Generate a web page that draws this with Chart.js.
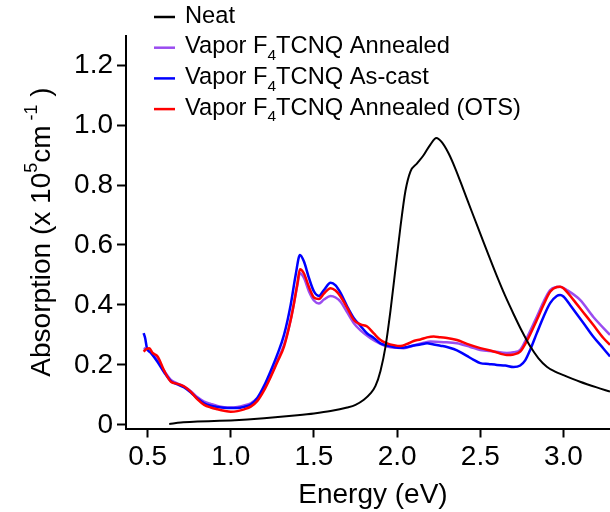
<!DOCTYPE html>
<html>
<head>
<meta charset="utf-8">
<script src="https://cdn.jsdelivr.net/npm/chart.js@4.4.1/dist/chart.umd.min.js"></script>
<style>
  html, body { margin: 0; padding: 0; background: #fff; }
  #wrap { width: 610px; height: 512px; }
</style>
</head>
<body>
<div id="wrap"><canvas id="chart" width="610" height="512"></canvas></div>
<script>
// Tick positions
const xTicks = [0.5, 1.0, 1.5, 2.0, 2.5, 3.0];
const yTicks = [0, 0.2, 0.4, 0.6, 0.8, 1.0, 1.2];

// Neat film
const neatE = [0.63, 0.7, 0.8, 0.9, 1.0, 1.1, 1.2, 1.3, 1.4, 1.5, 1.6, 1.7, 1.75, 1.8, 1.84, 1.87, 1.9, 1.93, 1.96, 1.99,
  2.02, 2.05, 2.08, 2.12, 2.16, 2.2, 2.236, 2.27, 2.31, 2.35, 2.4, 2.45, 2.5, 2.55, 2.6, 2.65, 2.7, 2.75, 2.8, 2.85,
  2.9, 2.95, 3.0, 3.1, 3.2, 3.28];
const neatA = [0.003, 0.008, 0.011, 0.013, 0.015, 0.018, 0.022, 0.027, 0.032, 0.038, 0.046, 0.058, 0.067, 0.084, 0.105, 0.13, 0.18, 0.26, 0.38, 0.52,
  0.66, 0.78, 0.845, 0.872, 0.9, 0.935, 0.957, 0.942, 0.905, 0.855, 0.783, 0.71, 0.638, 0.566, 0.496, 0.43, 0.37, 0.313, 0.262, 0.222,
  0.194, 0.178, 0.166, 0.144, 0.125, 0.111];

// Vapor F4TCNQ Annealed
const annE = [0.476, 0.5, 0.53, 0.56, 0.6, 0.64, 0.68, 0.72, 0.76, 0.8, 0.84, 0.88, 0.92, 0.96, 1.0, 1.04, 1.08, 1.12, 1.16, 1.2,
  1.24, 1.28, 1.32, 1.36, 1.38, 1.4, 1.416, 1.44, 1.47, 1.5, 1.53, 1.56, 1.6, 1.63, 1.66, 1.7, 1.74, 1.78, 1.84, 1.9,
  1.94, 2.0, 2.04, 2.1, 2.16, 2.2, 2.28, 2.36, 2.44, 2.5, 2.58, 2.66, 2.7, 2.74, 2.78, 2.84, 2.88, 2.92, 2.96, 2.98,
  3.02, 3.1, 3.18, 3.28];
const annA = [0.256, 0.25, 0.235, 0.215, 0.18, 0.15, 0.138, 0.128, 0.112, 0.092, 0.078, 0.07, 0.063, 0.059, 0.058, 0.06, 0.065, 0.072, 0.09, 0.12,
  0.165, 0.215, 0.267, 0.35, 0.406, 0.465, 0.506, 0.49, 0.445, 0.415, 0.405, 0.418, 0.43, 0.425, 0.411, 0.375, 0.339, 0.315, 0.289, 0.27,
  0.261, 0.257, 0.256, 0.265, 0.274, 0.278, 0.276, 0.272, 0.26, 0.25, 0.245, 0.24, 0.242, 0.25, 0.29, 0.361, 0.41, 0.45, 0.46, 0.461,
  0.45, 0.417, 0.36, 0.3];

// Vapor F4TCNQ As-cast
const castE = [0.476, 0.485, 0.496, 0.52, 0.56, 0.6, 0.64, 0.68, 0.72, 0.76, 0.8, 0.84, 0.88, 0.92, 0.96, 1.0, 1.04, 1.08, 1.12, 1.16,
  1.2, 1.24, 1.28, 1.32, 1.36, 1.39, 1.416, 1.44, 1.47, 1.5, 1.53, 1.56, 1.6, 1.63, 1.66, 1.7, 1.74, 1.78, 1.82, 1.86,
  1.9, 1.94, 1.98, 2.02, 2.06, 2.1, 2.14, 2.18, 2.22, 2.26, 2.3, 2.34, 2.38, 2.42, 2.46, 2.5, 2.55, 2.6, 2.65, 2.7,
  2.74, 2.77, 2.8, 2.84, 2.88, 2.92, 2.96, 2.98, 3.0, 3.04, 3.08, 3.12, 3.18, 3.24, 3.28];
const castA = [0.306, 0.29, 0.256, 0.24, 0.21, 0.175, 0.146, 0.135, 0.125, 0.108, 0.088, 0.072, 0.064, 0.06, 0.057, 0.056, 0.056, 0.06, 0.068, 0.09,
  0.13, 0.18, 0.235, 0.3, 0.4, 0.5, 0.567, 0.545, 0.49, 0.445, 0.43, 0.45, 0.474, 0.465, 0.44, 0.395, 0.356, 0.33, 0.305, 0.29,
  0.272, 0.265, 0.26, 0.257, 0.26, 0.265, 0.268, 0.272, 0.268, 0.264, 0.26, 0.253, 0.243, 0.23, 0.217, 0.206, 0.203, 0.2, 0.198, 0.193,
  0.198, 0.215, 0.25, 0.306, 0.36, 0.406, 0.43, 0.433, 0.428, 0.4, 0.37, 0.34, 0.294, 0.255, 0.228];

// Vapor F4TCNQ Annealed (OTS)
const otsE = [0.476, 0.49, 0.51, 0.53, 0.56, 0.6, 0.64, 0.68, 0.72, 0.76, 0.8, 0.84, 0.88, 0.92, 0.96, 1.0, 1.04, 1.08, 1.12, 1.16,
  1.2, 1.24, 1.28, 1.32, 1.36, 1.38, 1.4, 1.416, 1.44, 1.47, 1.5, 1.53, 1.56, 1.6, 1.63, 1.66, 1.7, 1.74, 1.78, 1.82,
  1.86, 1.9, 1.94, 1.98, 2.02, 2.06, 2.1, 2.14, 2.18, 2.22, 2.26, 2.3, 2.36, 2.42, 2.5, 2.58, 2.66, 2.7, 2.74, 2.78,
  2.84, 2.88, 2.92, 2.96, 2.98, 3.0, 3.06, 3.12, 3.18, 3.24, 3.28];
const otsA = [0.244, 0.252, 0.256, 0.24, 0.228, 0.18, 0.144, 0.137, 0.128, 0.11, 0.085, 0.067, 0.058, 0.052, 0.047, 0.044, 0.046, 0.052, 0.061, 0.08,
  0.115, 0.16, 0.21, 0.261, 0.35, 0.406, 0.47, 0.519, 0.505, 0.46, 0.425, 0.42, 0.438, 0.456, 0.448, 0.428, 0.39, 0.35, 0.335, 0.328,
  0.305, 0.283, 0.272, 0.266, 0.263, 0.27, 0.28, 0.285, 0.292, 0.295, 0.292, 0.29, 0.283, 0.27, 0.256, 0.245, 0.233, 0.235, 0.244, 0.28,
  0.35, 0.4, 0.444, 0.46, 0.461, 0.456, 0.417, 0.375, 0.333, 0.29, 0.267];

const FONT = "'Liberation Sans', Arial, Helvetica, sans-serif";

function pairs(xs, ys) {
  return xs.map((x, i) => ({ x: x, y: ys[i] }));
}

const legendItems = [
  { color: '#000000', pre: 'Neat' },
  { color: '#9a4cf0', pre: 'Vapor F', sub: '4', post: 'TCNQ Annealed' },
  { color: '#0000ff', pre: 'Vapor F', sub: '4', post: 'TCNQ As-cast' },
  { color: '#ff0000', pre: 'Vapor F', sub: '4', post: 'TCNQ Annealed (OTS)' }
];

// titles and legend drawn by hand, they need sub/superscripts
const decorations = {
  id: 'decorations',
  afterDraw(chart) {
    const ctx = chart.ctx;
    ctx.save();
    ctx.fillStyle = '#000';
    ctx.textBaseline = 'alphabetic';

    // x title
    ctx.font = '28px ' + FONT;
    ctx.textAlign = 'center';
    ctx.fillText('Energy (eV)', 373, 503);

    // y title, rotated
    ctx.translate(50, 232);
    ctx.rotate(-Math.PI / 2);
    const parts = [
      { t: 'Absorption (x 10', size: 28, dy: 0 },
      { t: '5', size: 18, dy: -13 },
      { t: 'cm', size: 28, dy: 0 },
      { t: ' -1', size: 18, dy: -13 },
      { t: ' )', size: 28, dy: 0 }
    ];
    let total = 0;
    parts.forEach(p => { ctx.font = p.size + 'px ' + FONT; p.w = ctx.measureText(p.t).width; total += p.w; });
    ctx.textAlign = 'left';
    let px = -total / 2;
    parts.forEach(p => {
      ctx.font = p.size + 'px ' + FONT;
      ctx.fillText(p.t, px, p.dy);
      px += p.w;
    });
    ctx.setTransform(1, 0, 0, 1, 0, 0);

    // legend
    legendItems.forEach((item, i) => {
      const y = 16 + i * 30.7;
      ctx.strokeStyle = item.color;
      ctx.lineWidth = 2.5;
      ctx.beginPath();
      ctx.moveTo(154, y + 1);
      ctx.lineTo(175, y + 1);
      ctx.stroke();
      ctx.textBaseline = 'middle';
      ctx.textAlign = 'left';
      ctx.font = '23.7px ' + FONT;
      let tx = 185;
      ctx.fillText(item.pre, tx, y);
      tx += ctx.measureText(item.pre).width;
      if (item.sub) {
        ctx.font = '15.5px ' + FONT;
        ctx.fillText(item.sub, tx, y + 9);
        tx += ctx.measureText(item.sub).width;
        ctx.font = '23.7px ' + FONT;
        ctx.fillText(item.post, tx, y);
      }
    });
    ctx.restore();
  }
};

new Chart(document.getElementById('chart'), {
  type: 'line',
  data: {
    datasets: [
      { label: 'Neat', data: pairs(neatE, neatA), borderColor: '#000000', borderWidth: 2, order: 0 },
      { label: 'Vapor F4TCNQ Annealed', data: pairs(annE, annA), borderColor: '#9a4cf0', borderWidth: 2.5, order: 3 },
      { label: 'Vapor F4TCNQ As-cast', data: pairs(castE, castA), borderColor: '#0000ff', borderWidth: 2.5, order: 2 },
      { label: 'Vapor F4TCNQ Annealed (OTS)', data: pairs(otsE, otsA), borderColor: '#ff0000', borderWidth: 2.5, order: 1 }
    ]
  },
  options: {
    responsive: false,
    animation: false,
    elements: {
      point: { radius: 0 },
      line: { tension: 0.35, cubicInterpolationMode: 'monotone', fill: false }
    },
    layout: { padding: { top: 36, right: 0, left: 0, bottom: 0 } },
    plugins: { legend: { display: false }, tooltip: { enabled: false } },
    scales: {
      x: {
        type: 'linear',
        min: 0.37,
        max: 3.28,
        afterFit(scale) { scale.height = 83.5; },
        afterBuildTicks(scale) { scale.ticks = xTicks.map(v => ({ value: v })); },
        grid: { drawOnChartArea: false, drawTicks: true, tickLength: 9, tickWidth: 2, tickColor: '#000' },
        border: { display: true, color: '#000', width: 2 },
        ticks: {
          color: '#000',
          font: { family: FONT, size: 28 },
          padding: 3,
          maxRotation: 0,
          callback: v => v.toFixed(1)
        }
      },
      y: {
        min: -0.012,
        max: 1.297,
        afterFit(scale) { scale.width = 126; },
        afterBuildTicks(scale) { scale.ticks = yTicks.map(v => ({ value: v })); },
        grid: { drawOnChartArea: false, drawTicks: true, tickLength: 9, tickWidth: 2, tickColor: '#000' },
        border: { display: true, color: '#000', width: 2 },
        ticks: {
          color: '#000',
          font: { family: FONT, size: 28 },
          padding: 4,
          callback: v => v === 0 ? '0' : v.toFixed(1)
        }
      }
    }
  },
  plugins: [decorations]
});
</script>
</body>
</html>
